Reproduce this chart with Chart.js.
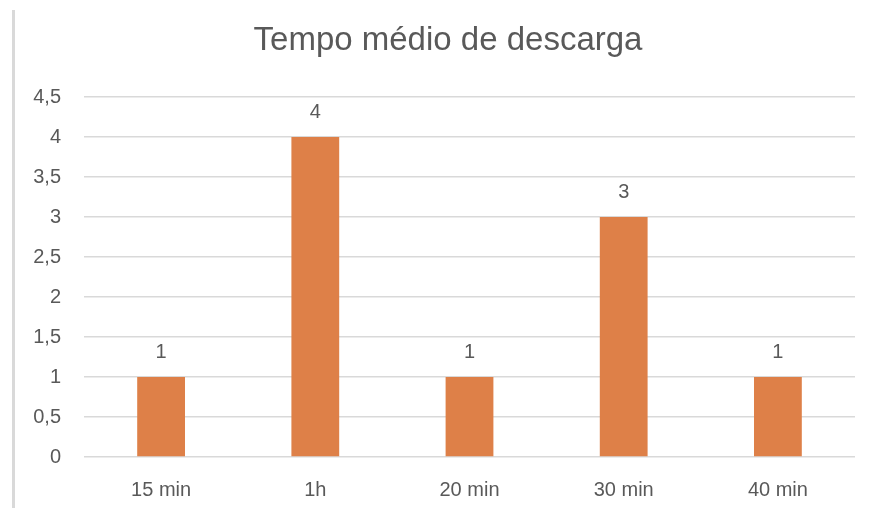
<!DOCTYPE html>
<html lang="pt">
<head>
    <meta charset="UTF-8">
    <title>Tempo médio de descarga</title>
    <script src="https://cdn.jsdelivr.net/npm/chart.js"></script>
    <style>
        body {
            margin: 0;
            background: #ffffff;
        }
        .wrap {
            position: relative;
            width: 875px;
            height: 508px;
        }
        .edge {
            position: absolute;
            left: 12px;
            top: 10px;
            width: 3px;
            height: 498px;
            background: #d9d9d9;
        }
        canvas {
            position: absolute;
            left: 0;
            top: 0;
        }
    </style>
</head>
<body>
    <div class="wrap">
        <div class="edge"></div>
        <canvas id="chart" width="875" height="508"></canvas>
    </div>

    <script>
        const chartTitle = 'Tempo médio de descarga';
        const categories = ['15 min', '1h', '20 min', '30 min', '40 min'];
        const values = [1, 4, 1, 3, 1];
        const yMax = 4.5;
        const yStep = 0.5;

        const textColor = '#595959';
        const fontFamily = '"Liberation Sans", Arial, sans-serif';

        const fmt = v => String(v).replace('.', ',');

        // title centred over the whole frame, value labels above each bar
        const extraText = {
            id: 'extraText',
            afterDatasetsDraw(chart) {
                const ctx = chart.ctx;
                const meta = chart.getDatasetMeta(0);
                ctx.save();
                ctx.fillStyle = textColor;
                ctx.textAlign = 'center';
                ctx.textBaseline = 'middle';
                ctx.font = '33px ' + fontFamily;
                ctx.fillText(chartTitle, 448, 41);
                ctx.font = '20px ' + fontFamily;
                meta.data.forEach((bar, i) => {
                    ctx.fillText(fmt(values[i]), bar.x, bar.y - 25);
                });
                ctx.restore();
            }
        };

        Chart.defaults.font.family = fontFamily;
        Chart.defaults.color = textColor;

        new Chart(document.getElementById('chart'), {
            type: 'bar',
            data: {
                labels: categories,
                datasets: [{
                    data: values,
                    backgroundColor: '#de8048',
                    categoryPercentage: 1,
                    barPercentage: 0.31
                }]
            },
            options: {
                responsive: false,
                animation: false,
                layout: { padding: { left: 0, right: 20, top: 97, bottom: 0 } },
                plugins: {
                    legend: { display: false },
                    tooltip: { enabled: false },
                    title: { display: false }
                },
                scales: {
                    x: {
                        grid: { display: false, drawTicks: false },
                        border: { display: false },
                        ticks: { color: textColor, font: { size: 20 }, padding: 21 },
                        afterFit(scale) { scale.height = 51; }
                    },
                    y: {
                        min: 0,
                        max: yMax,
                        grid: { color: '#d9d9d9', lineWidth: 1.5, drawTicks: false },
                        border: { display: false },
                        ticks: {
                            stepSize: yStep,
                            color: textColor,
                            font: { size: 20 },
                            padding: 23,
                            callback: v => fmt(v)
                        },
                        afterFit(scale) { scale.width = 84; }
                    }
                }
            },
            plugins: [extraText]
        });
    </script>
</body>
</html>
